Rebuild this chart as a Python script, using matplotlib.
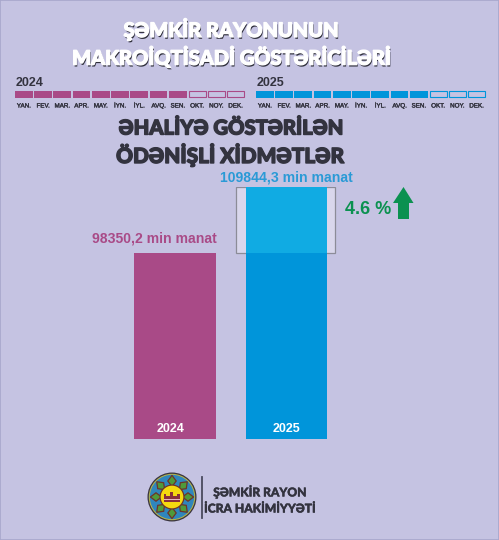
import numpy as np
import matplotlib
matplotlib.use('Agg')
import matplotlib.pyplot as plt
import matplotlib.patheffects as pe
from matplotlib.patches import Circle, Polygon, Rectangle

W, H = 499, 540

years = ['2024', '2025']
values = [98350.2, 109844.3]
value_labels = ['98350,2 min manat', '109844,3 min manat']
months = ['YAN.', 'FEV.', 'MAR.', 'APR.', 'MAY.', 'İYN.', 'İYL.', 'AVQ.', 'SEN.', 'OKT.', 'NOY.', 'DEK.']
months_reported = 9
growth_label = '4.6 %'

BG = '#c5c3e2'
PURPLE = '#a94a87'
BLUE = '#0095da'
LIGHT_BLUE = '#10abe3'
GREEN = '#0b9150'
DARK = '#33333f'
HEAD_FONT = ['Lato', 'Noto Sans', 'DejaVu Sans']

fig = plt.figure(figsize=(W / 100, H / 100), dpi=100, facecolor=BG)

# bars: baseline picked so the heights match the poster (it is not zero there)
bar_top, bar_bottom = 187, 439
ax = fig.add_axes([0, 1 - bar_bottom / H, 1, (bar_bottom - bar_top) / H])
ax.set_xlim(-175 / 111.5, (W - 175) / 111.5)
ax.set_ylim(65958, values[1])
ax.axis('off')
ax.bar(0, values[0], width=0.735, color=PURPLE)
ax.bar(1, values[1], width=0.735, color=BLUE)
ax.bar(1, values[1] - values[0], bottom=values[0], width=0.735, color=LIGHT_BLUE)
ax.bar(0.992, values[1] - values[0], bottom=values[0], width=0.888,
       color=(1, 1, 1, 0.35), edgecolor='#8c8c98', linewidth=0.9, zorder=0)

# overlay in pixel coordinates for texts and the month strips
ov = fig.add_axes([0, 0, 1, 1], zorder=5)
ov.set_xlim(0, W)
ov.set_ylim(H, 0)
ov.axis('off')
ov.add_patch(Rectangle((0, 0), W, H, fill=False, edgecolor='#a8a7cc', linewidth=1.2))

title_fx = [pe.SimplePatchShadow(offset=(0.7, -1.3), shadow_rgbFace='#30303c', alpha=1.0),
            pe.Stroke(linewidth=0.9, foreground='white'), pe.Normal()]
for txt, y in [('ŞƏMKİR RAYONUNUN', 29), ('MAKROİQTİSADİ GÖSTƏRİCİLƏRİ', 57)]:
    ov.text(231, y, txt, color='white', fontsize=14.4, fontweight='black', family=HEAD_FONT,
            ha='center', va='center', path_effects=title_fx)
head_fx = [pe.withStroke(linewidth=1.0, foreground=DARK)]
for txt, y, fs in [('ƏHALİYƏ GÖSTƏRİLƏN', 128, 14.6), ('ÖDƏNİŞLİ XİDMƏTLƏR', 155, 15.0)]:
    ov.text(230.5, y, txt, color=DARK, fontsize=fs, fontweight='black', family=HEAD_FONT,
            ha='center', va='center', path_effects=head_fx)

for year, x0, col in zip(years, [15, 256], [PURPLE, BLUE]):
    ov.text(x0 + 1, 83, year, color=DARK, fontsize=9, fontweight='bold',
            family='Liberation Sans', ha='left', va='center')
    for i, m in enumerate(months):
        x = x0 + i * 19.25
        if i < months_reported:
            ov.add_patch(Rectangle((x, 91), 17.6, 6.5, facecolor=col, edgecolor='none'))
        else:
            ov.add_patch(Rectangle((x + 0.3, 91.3), 17, 6, fill=False, edgecolor=col, linewidth=0.8))
        ov.text(x + 8.8, 106, m, color=DARK, fontsize=4.5, family='Liberation Sans',
                ha='center', va='center', path_effects=[pe.withStroke(linewidth=0.25, foreground=DARK)])

ov.text(154, 238.5, value_labels[0], color=PURPLE, fontsize=10.1, fontweight='bold',
        family='Liberation Sans', ha='center', va='center')
ov.text(286.7, 177, value_labels[1], color='#2a9ad6', fontsize=10.1, fontweight='bold',
        family='Liberation Sans', ha='center', va='center')
for year, x in zip(years, [171, 286.5]):
    ov.text(x, 429, year, color='white', fontsize=9, fontweight='bold',
            family='Liberation Sans', ha='center', va='center')

ov.text(368.5, 209, growth_label, color=GREEN, fontsize=13, fontweight='bold',
        family='Liberation Sans', ha='center', va='center')
ov.add_patch(Polygon([(403.5, 187), (413.5, 203), (409, 203), (409, 219), (398, 219), (398, 203), (393, 203)],
                     facecolor=GREEN, edgecolor='none'))

# logo
cx, cy = 172, 497
ov.add_patch(Circle((cx, cy), 24.5, facecolor='#3a3540', edgecolor='none'))
ov.add_patch(Circle((cx, cy), 23.2, facecolor='#b9b54a', edgecolor='none'))
ov.add_patch(Circle((cx, cy), 22.2, facecolor='#2f86bd', edgecolor='none'))
for k in range(8):
    a = k * np.pi / 4
    # green diamond petals, with the blue showing between them near the rim
    px, py = cx + 16 * np.cos(a), cy + 16 * np.sin(a)
    r1, r2 = 5.6, 4.2
    ov.add_patch(Polygon([(px + r1 * np.cos(a), py + r1 * np.sin(a)),
                          (px + r2 * np.cos(a + np.pi / 2), py + r2 * np.sin(a + np.pi / 2)),
                          (px - r1 * np.cos(a), py - r1 * np.sin(a)),
                          (px + r2 * np.cos(a - np.pi / 2), py + r2 * np.sin(a - np.pi / 2))],
                         facecolor='#4f9a3a', edgecolor='#6e3428', linewidth=0.9))
ov.add_patch(Circle((cx, cy), 12.5, facecolor='#6e3428', edgecolor='none'))
ov.add_patch(Circle((cx, cy), 11.3, facecolor='#f5d90f', edgecolor='none'))
ov.add_patch(Polygon([(cx - 8, cy + 5), (cx - 8, cy - 3), (cx - 5.5, cy - 3), (cx - 5.5, cy - 1),
                      (cx - 1.5, cy - 1), (cx - 1.5, cy - 5), (cx + 1.5, cy - 5), (cx + 1.5, cy - 1),
                      (cx + 5.5, cy - 1), (cx + 5.5, cy - 3), (cx + 8, cy - 3), (cx + 8, cy + 5)],
                     facecolor='#8a2f3a', edgecolor='none'))
ov.add_patch(Rectangle((cx - 8, cy + 1.5), 16, 1.5, facecolor='#e8b7c0', edgecolor='none'))
ov.plot([201.7, 201.7], [477, 518], color='#4a4a5e', linewidth=1.3)
logo_fx = [pe.withStroke(linewidth=0.3, foreground=DARK)]
ov.text(260, 492, 'ŞƏMKİR RAYON', color=DARK, fontsize=8.7, fontweight='black',
        family=HEAD_FONT, ha='center', va='center', path_effects=logo_fx)
ov.text(260, 509, 'İCRA HAKİMİYYƏTİ', color=DARK, fontsize=8.7, fontweight='black',
        family=HEAD_FONT, ha='center', va='center', path_effects=logo_fx)

fig.savefig('out.png', dpi=100, facecolor=BG)
